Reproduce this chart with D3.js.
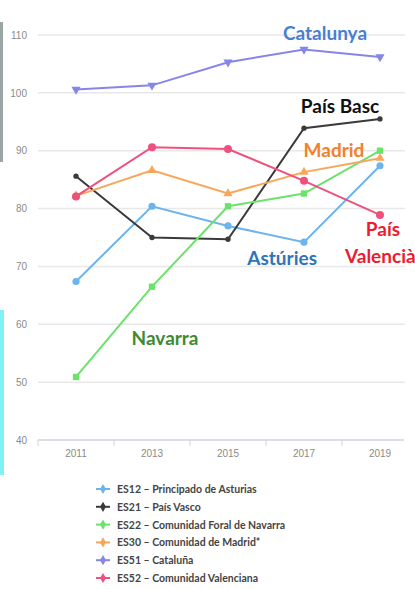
<html>
  <head>
    <meta charset="UTF-8">
    <style>
      body { margin: 0; background: #fff; font-family: 'Lato', 'Open Sans', sans-serif; }
      .grid line { stroke: #e8e8e8; stroke-width: 1.5; }
      .tick text { fill: #8a8a8a; font-size: 10px; }
    </style>
  </head>
  <body>
    <script src="https://cdnjs.cloudflare.com/ajax/libs/d3/7.8.5/d3.min.js"></script>
    <svg id="chart" width="415" height="589"></svg>
    <script>
      var years = ["2011", "2013", "2015", "2017", "2019"];
      var yTicks = [40, 50, 60, 70, 80, 90, 100, 110];

      var asturias   = [67.4, 80.4, 77.0, 74.2, 87.4];
      var paisVasco  = [85.6, 75.0, 74.7, 93.9, 95.5];
      var navarra    = [50.9, 66.5, 80.4, 82.6, 90.0];
      var madrid     = [82.2, 86.6, 82.6, 86.3, 88.7];
      var cataluna   = [100.6, 101.3, 105.3, 107.5, 106.2];
      var valenciana = [82.1, 90.6, 90.3, 84.8, 78.9];

      var seriesNames = ["ES12 – Principado de Asturias", "ES21 – País Vasco",
        "ES22 – Comunidad Foral de Navarra", "ES30 – Comunidad de Madrid*",
        "ES51 – Cataluña", "ES52 – Comunidad Valenciana"];

      // labels drawn over the chart: text, anchor year, anchor value
      var labelText  = ["Catalunya", "País Basc", "Madrid", "Astúries", "País", "Valencià", "Navarra"];
      var labelYear  = ["2017", "2017", "2017", "2017", "2019", "2019", "2013"];
      var labelValue = [109.2, 96.5, 88.9, 70.2, 75.3, 70.6, 56.4];

      var svg = d3.select("#chart"),
          x = d3.scaleBand().domain(years).range([38, 418]),
          y = d3.scaleLinear().domain([40, 110]).range([440, 35]);

      /* screenshot strip on the left edge */
      svg.append("rect").attr("x", 0).attr("y", 22).attr("width", 3).attr("height", 140).style("fill", "#9aa5a5");
      svg.append("rect").attr("x", 0).attr("y", 310).attr("width", 4).attr("height", 165).style("fill", "#7ff3f3");

      /* grid */
      svg.append("g")
        .attr("class", "grid")
        .selectAll("line")
        .data(yTicks.slice(1))
        .join("line")
        .attr("x1", 38).attr("x2", 405)
        .attr("y1", function(d) { return y(d); })
        .attr("y2", function(d) { return y(d); });

      /* y labels */
      svg.append("g")
        .attr("transform", "translate(27,0)")
        .call(d3.axisLeft(y).tickValues(yTicks).tickSize(0).tickPadding(0))
        .call(function(g) { g.select(".domain").remove(); })
        .selectAll("text").attr("text-anchor", "end").attr("font-size", 10);

      /* x axis */
      var xAxis = svg.append("g")
        .attr("transform", "translate(0,440)")
        .call(d3.axisBottom(x).tickSize(0).tickPadding(10));
      xAxis.select(".domain").attr("d", "M38,0H404").attr("stroke", "#d0d4dc").attr("stroke-width", 1.5);
      xAxis.selectAll("text").attr("font-size", 9.5);
      xAxis.selectAll(".sep")
        .data(years)
        .join("line")
        .attr("class", "sep")
        .attr("x1", function(d) { return x(d); })
        .attr("x2", function(d) { return x(d); })
        .attr("y1", 0).attr("y2", 6)
        .attr("stroke", "#d0d4dc");

      var series = [
        {values: asturias,   color: "#6db3ec", symbol: d3.symbolCircle,   size: 40},
        {values: paisVasco,  color: "#3a3a3a", symbol: d3.symbolCircle,   size: 22},
        {values: navarra,    color: "#6ae36a", symbol: d3.symbolSquare,   size: 40},
        {values: madrid,     color: "#f8a65a", symbol: d3.symbolTriangle, size: 36},
        {values: cataluna,   color: "#8585ea", symbol: d3.symbolTriangle, size: 36, flip: true},
        {values: valenciana, color: "#f0507e", symbol: d3.symbolCircle,   size: 50}
      ];

      var line = d3.line()
        .x(function(d, i) { return x(years[i]) + x.bandwidth() / 2; })
        .y(function(d) { return y(d); });

      series.forEach(function(s) {
        svg.append("path")
          .datum(s.values)
          .attr("fill", "none")
          .attr("stroke", s.color)
          .attr("stroke-width", 2)
          .attr("d", line);
        svg.selectAll(null)
          .data(s.values)
          .join("path")
          .attr("d", d3.symbol().type(s.symbol).size(s.size))
          .attr("transform", function(d, i) {
            return "translate(" + (x(years[i]) + x.bandwidth() / 2) + "," + y(d) + ")" + (s.flip ? " rotate(180)" : "");
          })
          .attr("fill", s.color);
      });

      /* annotations */
      var labelColor = ["#4a7ed2", "#111111", "#f2802c", "#2f74b8", "#ec1c2e", "#ec1c2e", "#3f8a30"];
      var labelAnchor = ["middle", "middle", "middle", "end", "middle", "start", "middle"];
      var labelDx = [21, 36, 30, 13, 3, -35, 13];
      labelText.forEach(function(t, i) {
        svg.append("text")
          .attr("x", x(labelYear[i]) + x.bandwidth() / 2 + labelDx[i])
          .attr("y", y(labelValue[i]))
          .attr("text-anchor", labelAnchor[i])
          .style("font-size", "19px")
          .style("font-weight", "bold")
          .style("fill", labelColor[i])
          .text(t);
      });

      /* legend */
      var legend = svg.append("g").attr("transform", "translate(103,489)");
      series.forEach(function(s, i) {
        var g = legend.append("g").attr("transform", "translate(0," + (i * 17.8) + ")");
        g.append("line").attr("x1", -7).attr("x2", 7).attr("stroke", s.color).attr("stroke-width", 2);
        g.append("path")
          .attr("d", d3.symbol().type(d3.symbolDiamond).size(30))
          .attr("fill", s.color);
        g.append("text")
          .attr("x", 14)
          .attr("y", 4)
          .style("font-size", "10.5px")
          .style("font-weight", "bold")
          .style("fill", "#444")
          .text(seriesNames[i]);
      });
    </script>
  </body>
</html>
